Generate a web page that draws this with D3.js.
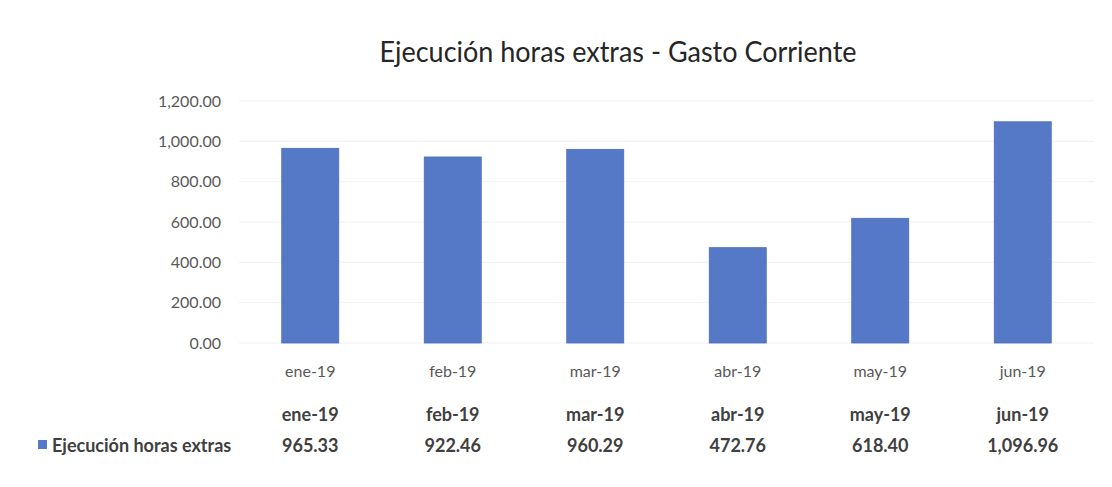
<!DOCTYPE html>
<html><head><meta charset="utf-8">
<script src="https://cdn.jsdelivr.net/npm/d3@7"></script>
<style>body{margin:0;background:#fff}svg{display:block}</style>
</head><body>
<script>
const categories = ["ene-19","feb-19","mar-19","abr-19","may-19","jun-19"];
const values = [965.33, 922.46, 960.29, 472.76, 618.40, 1096.96];
const valueLabels = ["965.33","922.46","960.29","472.76","618.40","1,096.96"];
const yTicks = [0,200,400,600,800,1000,1200];
const seriesName = "Ejecución horas extras";
const title = "Ejecución horas extras - Gasto Corriente";

const W=1112,H=487;
const svg=d3.select("body").append("svg").attr("width",W).attr("height",H);
svg.append("rect").attr("width",W).attr("height",H).attr("fill","#fff");
const font="Lato, 'Open Sans', sans-serif";
const x=d3.scaleBand().domain(categories).range([239,1094]).paddingInner(0.6).paddingOuter(0.3);
const y=d3.scaleLinear().domain([0,1200]).range([343,101]);

svg.append("text").attr("x",618).attr("y",62).attr("text-anchor","middle")
 .attr("font-family",font).attr("font-size",28).attr("fill","#262626")
 .attr("textLength",477).attr("lengthAdjust","spacingAndGlyphs").text(title);

// grid
svg.append("g").selectAll("line").data(yTicks).join("line")
 .attr("x1",239).attr("x2",1094).attr("y1",d=>y(d)).attr("y2",d=>y(d))
 .attr("stroke","#f1f1f1").attr("stroke-width",1);

const yAxis=svg.append("g").attr("transform","translate(221,0)")
 .call(d3.axisLeft(y).tickValues(yTicks).tickSize(0).tickPadding(0).tickFormat(d3.format(",.2f")));
yAxis.select(".domain").remove();
yAxis.selectAll("text").attr("font-family",font).attr("font-size",16).attr("fill","#595959");

svg.append("g").selectAll("rect").data(values).join("rect")
 .attr("x",(d,i)=>x(categories[i])).attr("width",x.bandwidth())
 .attr("y",d=>y(d)).attr("height",d=>y(0)-y(d))
 .attr("fill","#5679C7").attr("stroke","#4a6cb8").attr("stroke-width",0.8);

const xAxis=svg.append("g").attr("transform","translate(0,343)")
 .call(d3.axisBottom(x).tickSize(0).tickPadding(23));
xAxis.select(".domain").remove();
xAxis.selectAll("text").attr("font-family",font).attr("font-size",16).attr("fill","#595959");

// data table
svg.append("g").selectAll("text").data(categories).join("text")
 .attr("x",d=>x(d)+x.bandwidth()/2).attr("y",421).attr("text-anchor","middle")
 .attr("font-family",font).attr("font-size",18).attr("font-weight","bold").attr("fill","#404040").text(d=>d);
svg.append("g").selectAll("text").data(valueLabels).join("text")
 .attr("x",(d,i)=>x(categories[i])+x.bandwidth()/2).attr("y",452).attr("text-anchor","middle")
 .attr("font-family",font).attr("font-size",18).attr("font-weight","bold").attr("fill","#404040").text(d=>d);
svg.append("rect").attr("x",38).attr("y",440).attr("width",9).attr("height",9).attr("fill","#5679C7");
svg.append("text").attr("x",52).attr("y",452).attr("font-family",font).attr("font-size",18)
 .attr("font-weight","bold").attr("fill","#404040").text(seriesName);
</script>
</body></html>
